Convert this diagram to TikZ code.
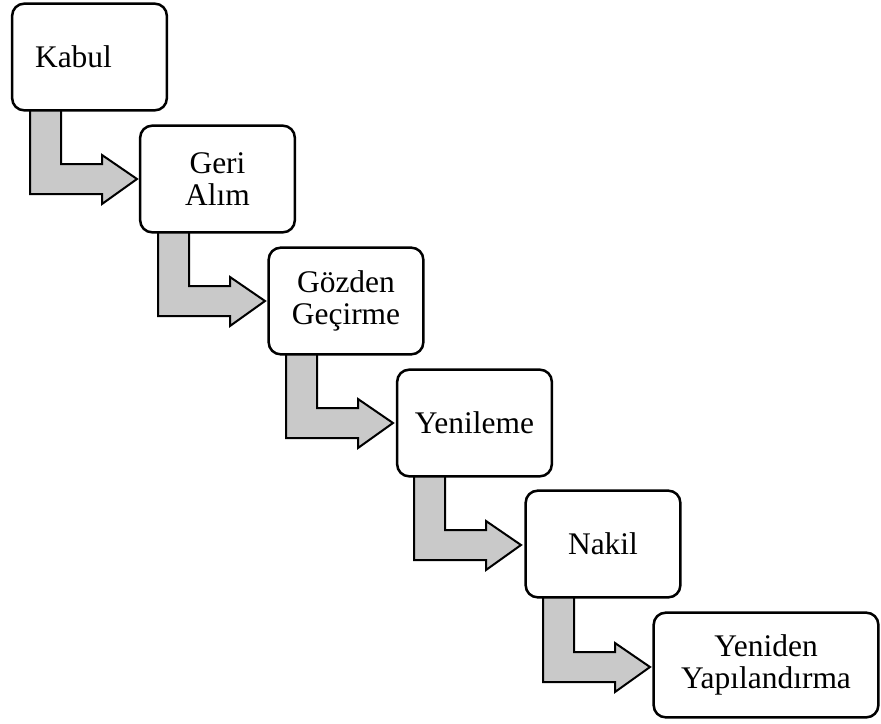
\documentclass[tikz,border=0pt]{standalone}
\usepackage{fontspec}
\setmainfont{Liberation Serif}
\begin{document}
\begin{tikzpicture}[x=0.75pt,y=-0.75pt,
  stage/.style={draw=black, line width=1.9pt, fill=white, rounded corners=9pt,
    minimum width=116pt, minimum height=80pt, inner sep=0pt, align=center,
    font=\fontsize{23.6pt}{24.5pt}\selectfont},
  bentarrow/.style={draw=black, line width=1.5pt, fill=black!21, line join=miter}]
\useasboundingbox (0,0) rectangle (881,724);
% arrows first (under boxes)
\coordinate (a1) at (12,110);
\coordinate (a2) at (140,232);
\coordinate (a3) at (268,354);
\coordinate (a4) at (396,476);
\coordinate (a5) at (525,598);
\foreach \i in {1,...,5}{
  \begin{scope}[shift={(a\i)}]
    \draw[bentarrow] (18,-4) -- (18,84) -- (90,84) -- (90,94) -- (125,69)
      -- (90,45) -- (90,54) -- (49,54) -- (49,-4) -- cycle;
  \end{scope}
}
\node[stage] (b1) at (89.5,57) {\hspace*{-24pt}Kabul};
\node[stage] (b2) at (217.5,179) {Geri\\Alım};
\node[stage] (b3) at (346,301) {Gözden\\Geçirme};
\node[stage] (b4) at (474.5,423) {Yenileme};
\node[stage] (b5) at (603,544) {Nakil};
\node[stage, minimum width=168.5pt, minimum height=78.5pt] (b6) at (766,665) {Yeniden\\Yapılandırma};
\end{tikzpicture}
\end{document}
